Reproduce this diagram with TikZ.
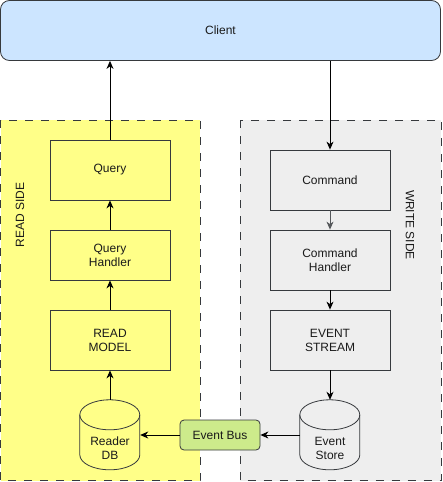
\documentclass[tikz,border=0pt]{standalone}
\usepackage{fontspec}
\setmainfont{Liberation Sans}
\usetikzlibrary{arrows.meta}
\definecolor{strokec}{HTML}{36393D}
\definecolor{clientc}{HTML}{CCE5FF}
\definecolor{readc}{HTML}{FFFF88}
\definecolor{writec}{HTML}{EEEEEE}
\definecolor{busc}{HTML}{CDEB8B}
\definecolor{txtc}{HTML}{1A1A1A}
\tikzset{
  every node/.style={font=\fontsize{12}{14}\selectfont, text=txtc, align=center, inner sep=0pt},
  zone/.style={draw=strokec, line width=0.8pt, dash pattern=on 8pt off 8pt},
  boxr/.style={draw=strokec, fill=readc, line width=0.8pt, minimum width=120pt, minimum height=60pt},
  boxw/.style={draw=strokec, fill=writec, line width=0.8pt, minimum width=120pt, minimum height=60pt},
  cylslot/.style={minimum width=60pt, minimum height=70pt},
  cylline/.style={draw=strokec, line width=0.8pt},
  conn/.style={line width=0.9pt, -{Stealth[length=8pt,width=7pt,inset=2.5pt]}},
  sidelabel/.style={font=\fontsize{12}{14}\selectfont}
}
\begin{document}
\begin{tikzpicture}[x=1pt,y=-1pt]
\useasboundingbox (0,0) rectangle (442,482);
% zones
\path[zone, fill=readc] (0.5,120) rectangle (200,480.5);
\path[zone, fill=writec] (240,120) rectangle (441,480.5);
\node[sidelabel, rotate=90] (readlbl) at (20,215) {READ SIDE};
\node[sidelabel, rotate=-90] (writelbl) at (410,225) {WRITE SIDE};
% client
\node[draw=strokec, fill=clientc, line width=0.8pt, rounded corners=9pt,
      minimum width=440pt, minimum height=60pt] (client) at (220.5,30.5) {Client};
% read side
\node[boxr] (query) at (110,170) {Query};
\node[boxr, minimum height=50pt] (qhandler) at (110,255) {Query\\Handler};
\node[boxr] (readmodel) at (110,340) {READ\\MODEL};
\node[cylslot] (readerdb) at (110,435) {};
% write side
\node[boxw] (command) at (330,180) {Command};
\node[boxw] (chandler) at (330,260) {Command\\Handler};
\node[boxw] (estream) at (330,340) {EVENT\\STREAM};
\node[cylslot] (estore) at (330,435) {};
% cylinders (radii are in canvas units: angle 270 points down on the page)
\foreach \c/\f in {readerdb/readc, estore/writec}{
  \path[cylline, fill=\f] (\c.north west) ++(0,15)
     -- ++(0,40) arc[start angle=180, end angle=360, x radius=30pt, y radius=15pt]
     -- ++(0,-40) arc[start angle=0, end angle=180, x radius=30pt, y radius=15pt] -- cycle;
  \path[cylline] (\c.north west) ++(0,15) arc[start angle=180, end angle=360, x radius=30pt, y radius=15pt];
}
\node (readerdbtxt) at (110,448) {Reader\\DB};
\node (estoretxt) at (330,448) {Event\\Store};
% event bus
\node[draw=strokec, fill=busc, line width=0.8pt, rounded corners=4pt,
      minimum width=80pt, minimum height=30pt] (bus) at (220,435) {Event Bus};
% connectors
\draw[conn] (query.north) -- (query.north |- client.south);
\draw[conn] (qhandler) -- (query);
\draw[conn] (readmodel) -- (qhandler);
\draw[conn] (readerdb.north) -- (readmodel.south);
\draw[conn] (command.north |- client.south) -- (command.north);
\draw[conn, draw=strokec!85] (command) -- (chandler);
\draw[conn] (chandler) -- (estream);
\draw[conn] (estream.south) -- (estore.north);
\draw[conn] (estore.west) -- (bus.east);
\draw[conn] (bus.west) -- (readerdb.east);
\end{tikzpicture}
\end{document}
